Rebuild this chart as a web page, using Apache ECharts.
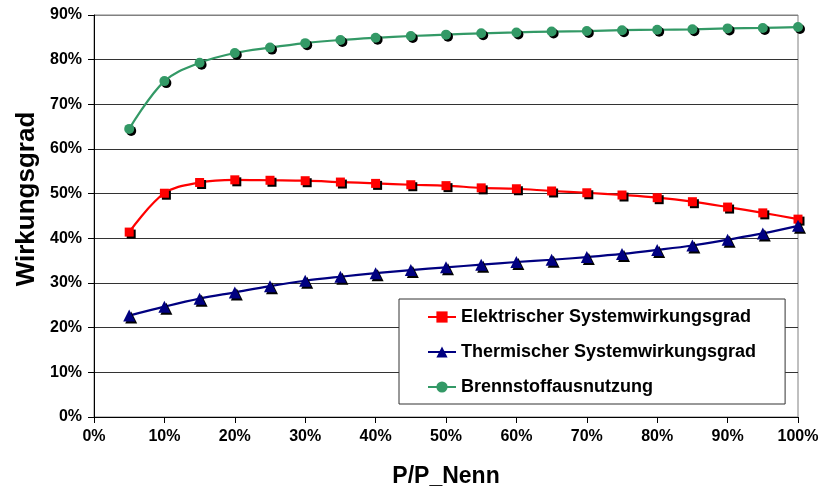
<!DOCTYPE html>
<html>
<head>
<meta charset="utf-8">
<script src="https://cdn.jsdelivr.net/npm/echarts@6/dist/echarts.min.js"></script>
<style>html,body{margin:0;padding:0;background:#fff}#c{width:820px;height:488px}</style>
</head>
<body>
<div id="c"></div>
<script>
const load = [5,10,15,20,25,30,35,40,45,50,55,60,65,70,75,80,85,90,95,100];
const elektrisch = [41.4,50.1,52.5,53.1,53.0,52.9,52.6,52.3,52.0,51.8,51.3,51.1,50.6,50.2,49.7,49.1,48.2,47.0,45.7,44.3];
const thermisch = [22.7,24.7,26.5,27.9,29.3,30.5,31.4,32.2,32.9,33.5,34.1,34.7,35.2,35.8,36.5,37.4,38.4,39.7,41.1,42.8];
const brennstoff = [64.5,75.2,79.3,81.5,82.7,83.7,84.4,84.9,85.3,85.6,85.9,86.1,86.3,86.4,86.6,86.7,86.8,87.0,87.1,87.3];
const seriesNames = ['Elektrischer Systemwirkungsgrad','Thermischer Systemwirkungsgrad','Brennstoffausnutzung'];
const xTitle = 'P/P_Nenn';
const yTitle = 'Wirkungsgrad';

const FONT = '"Liberation Sans", Arial, sans-serif';
const pair = arr => load.map((x,i)=>[x,arr[i]]);
const shadow = {shadowColor:'#000', shadowBlur:0, shadowOffsetX:2, shadowOffsetY:2};

const chart = echarts.init(document.getElementById('c'), null, {renderer:'canvas'});
chart.setOption({
  animation:false,
  backgroundColor:'#fff',
  grid:{left:94, right:22, top:15, bottom:71, show:true, borderColor:'#808080', borderWidth:1,
        containLabel:false, outerBoundsMode:'none'},
  graphic:[{
    type:'text', x:27, y:199, rotation:Math.PI/2,
    style:{text:yTitle, fontFamily:FONT, fontWeight:'bold', fontSize:26, fill:'#000',
           align:'center', verticalAlign:'middle'}
  }],
  xAxis:{
    type:'value', min:0, max:100, interval:10,
    name:xTitle, nameLocation:'middle', nameGap:48,
    nameTextStyle:{fontFamily:FONT, fontWeight:'bold', fontSize:23, color:'#000'},
    axisLine:{lineStyle:{color:'#000', width:1}},
    axisTick:{show:true, inside:false, length:6, lineStyle:{color:'#000'}},
    axisLabel:{formatter:'{value}%', fontFamily:FONT, fontWeight:'bold', fontSize:16, color:'#000', margin:12},
    splitLine:{show:false}
  },
  yAxis:{
    type:'value', min:0, max:90, interval:10,
    axisLine:{show:true, lineStyle:{color:'#000', width:1}},
    axisTick:{show:true, inside:false, length:6, lineStyle:{color:'#000'}},
    axisLabel:{formatter:'{value}%', fontFamily:FONT, fontWeight:'bold', fontSize:16, color:'#000', margin:12},
    splitLine:{show:true, lineStyle:{color:['#000','#333','#333','#333','#333','#333','#333','#333','#333','#808080'], width:1}}
  },
  legend:{
    orient:'vertical', left:399, top:299,
    padding:[9,29,8,28], itemGap:17, itemWidth:28, itemHeight:14,
    backgroundColor:'#fff', borderColor:'#333', borderWidth:1,
    textStyle:{fontFamily:FONT, fontWeight:'bold', fontSize:18, color:'#000'},
    itemStyle:{shadowColor:'rgba(0,0,0,0)', shadowOffsetX:0, shadowOffsetY:0},
    data:seriesNames
  },
  series:[
    {name:seriesNames[0], type:'line', data:pair(elektrisch), smooth:0.35,
     symbol:'rect', symbolSize:9, color:'#ff0000',
     lineStyle:{color:'#ff0000', width:2.2}, itemStyle:Object.assign({color:'#ff0000'}, shadow)},
    {name:seriesNames[1], type:'line', data:pair(thermisch), smooth:0.35,
     symbol:'triangle', symbolSize:12, color:'#000080',
     lineStyle:{color:'#000080', width:2.2}, itemStyle:Object.assign({color:'#000080'}, shadow)},
    {name:seriesNames[2], type:'line', data:pair(brennstoff), smooth:0.35,
     symbol:'circle', symbolSize:10, color:'#339966',
     lineStyle:{color:'#339966', width:2.2}, itemStyle:Object.assign({color:'#339966'}, shadow)}
  ]
});
</script>
</body>
</html>
